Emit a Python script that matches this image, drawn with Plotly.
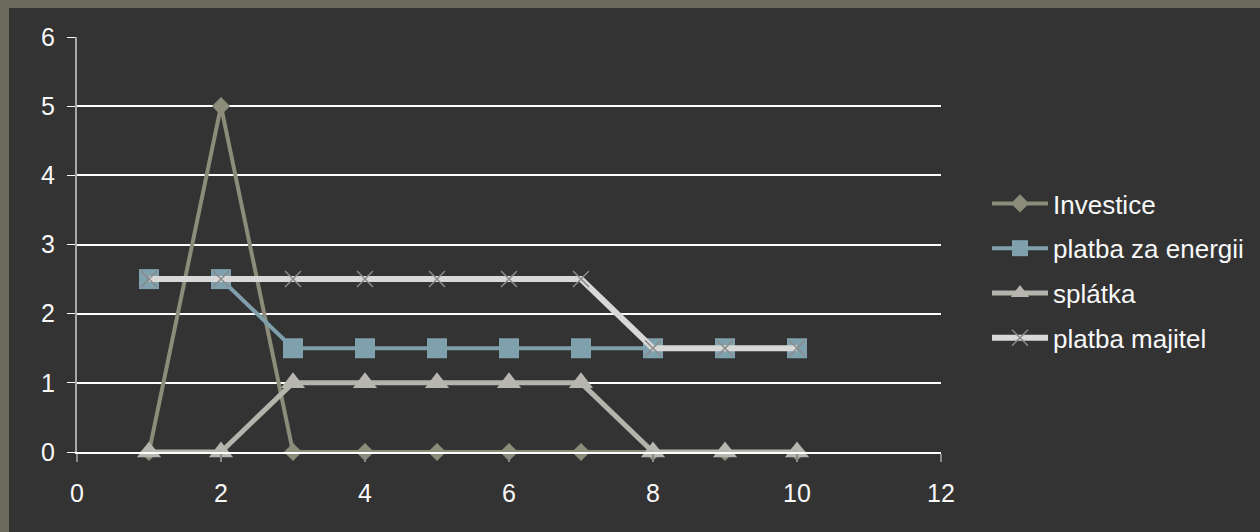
import plotly.graph_objects as go

x_vals = [1, 2, 3, 4, 5, 6, 7, 8, 9, 10]
investice = [0, 5, 0, 0, 0, 0, 0, 0, 0, 0]
platba_energie = [2.5, 2.5, 1.5, 1.5, 1.5, 1.5, 1.5, 1.5, 1.5, 1.5]
splatka = [0, 0, 1, 1, 1, 1, 1, 0, 0, 0]
platba_majitel = [2.5, 2.5, 2.5, 2.5, 2.5, 2.5, 2.5, 1.5, 1.5, 1.5]
series_names = ["Investice", "platba za energii", "splátka", "platba majitel"]
x_ticks = [0, 2, 4, 6, 8, 10, 12]
y_ticks = [0, 1, 2, 3, 4, 5, 6]

W, H = 1260, 532
L, R, T, B = 77, 941, 37, 452
pw, ph = R - L, B - T

def px_x(p):
    return (p - L) / pw

def px_y(p):
    return (B - p) / ph

fig = go.Figure()
fig.add_trace(go.Scatter(
    x=x_vals, y=investice, name=series_names[0], mode="lines+markers",
    line=dict(color="#8c8c7a", width=4),
    marker=dict(symbol="diamond", size=14, color="#8c8c7a"),
    legendgroup="a", cliponaxis=False))
fig.add_trace(go.Scatter(
    x=x_vals, y=platba_energie, name=series_names[1], mode="lines+markers",
    line=dict(color="#7f9fab", width=4),
    marker=dict(symbol="square", size=20, color="#7fa0ad"),
    legendgroup="b", cliponaxis=False))
fig.add_trace(go.Scatter(
    x=x_vals, y=splatka, name=series_names[2], mode="lines+markers",
    line=dict(color="#b4b4ac", width=5),
    marker=dict(symbol="triangle-up", size=21, color="#b6b6ae"),
    legendgroup="c", cliponaxis=False))
fig.add_trace(go.Scatter(
    x=x_vals, y=platba_majitel, name=series_names[3], mode="lines+markers",
    line=dict(color="#d8d8d8", width=6),
    marker=dict(symbol="x-thin", size=16, color="#8a8a8a",
                line=dict(color="#8a8a8a", width=1.5)),
    legendgroup="d", cliponaxis=False))

fnt = dict(family="Liberation Sans, Arial, sans-serif", size=25, color="#f8f8f8")

fig.update_layout(
    width=W, height=H,
    margin=dict(l=L, r=W - R, t=T, b=H - B, pad=0, autoexpand=False),
    paper_bgcolor="#333333",
    plot_bgcolor="#333333",
    font=fnt,
    showlegend=True,
    legend=dict(
        x=px_x(987), y=px_y(180), xanchor="left", yanchor="top",
        font=dict(family="Liberation Sans, Arial, sans-serif", size=26, color="#f8f8f8"),
        bgcolor="rgba(0,0,0,0)", itemwidth=56, tracegroupgap=8,
        itemclick=False,
    ),
    xaxis=dict(
        range=[0, 12], tickvals=x_ticks, showgrid=False, zeroline=False,
        showline=True, linecolor="#ffffff", linewidth=1.5,
        ticks="outside", ticklen=8, tickwidth=2, tickcolor="#888888",
        tickfont=fnt, ticklabelstandoff=10,
    ),
    yaxis=dict(
        range=[0, 6], tickvals=y_ticks, showgrid=True, gridcolor="#ffffff",
        gridwidth=1.5, zeroline=False,
        showline=True, linecolor="#a8a8a8", linewidth=2,
        ticks="outside", ticklen=8, tickwidth=1, tickcolor="#ffffff",
        tickfont=fnt, ticklabelstandoff=7,
    ),
    shapes=[
        dict(type="rect", xref="paper", yref="paper",
             x0=px_x(0), x1=px_x(W), y0=px_y(0), y1=px_y(8),
             fillcolor="#6b6b5e", line=dict(width=0), layer="below"),
        dict(type="rect", xref="paper", yref="paper",
             x0=px_x(0), x1=px_x(9), y0=px_y(0), y1=px_y(H),
             fillcolor="#6b6b5e", line=dict(width=0), layer="below"),
    ],
)

fig.write_html("out.html")
